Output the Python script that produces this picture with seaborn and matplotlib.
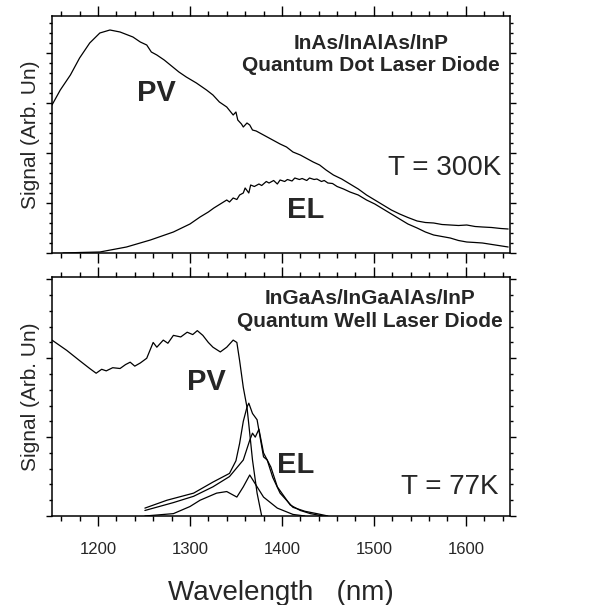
import numpy as np
import pandas as pd
import matplotlib
matplotlib.use("Agg")
import matplotlib.pyplot as plt
from matplotlib.ticker import MultipleLocator, NullFormatter
import seaborn as sns

# ---------------- data ----------------
# Top panel: InAs/InAlAs/InP quantum dot laser diode, T = 300K
qd_pv_wl = [1150, 1159, 1170, 1180, 1191, 1202, 1213, 1224, 1238, 1246, 1253, 1258, 1264,
            1272, 1280, 1288, 1296, 1307, 1318, 1325, 1332, 1340, 1347, 1350, 1352, 1356,
            1358, 1362, 1365, 1368, 1372, 1378, 1384, 1390, 1398, 1405, 1412, 1420, 1426,
            1434, 1441, 1448, 1456, 1465, 1474, 1483, 1492, 1501, 1510, 1519, 1528, 1537,
            1547, 1556, 1565, 1574, 1583, 1592, 1601, 1610, 1618, 1628, 1638, 1646]
qd_pv_sig = [2.96, 3.26, 3.56, 3.90, 4.20, 4.40, 4.46, 4.42, 4.32, 4.22, 4.16, 4.02, 3.96,
             3.86, 3.74, 3.62, 3.52, 3.40, 3.26, 3.16, 3.02, 2.92, 2.76, 2.82, 2.66, 2.58,
             2.52, 2.60, 2.56, 2.46, 2.44, 2.38, 2.32, 2.26, 2.18, 2.12, 2.02, 1.96, 1.90,
             1.82, 1.76, 1.66, 1.56, 1.48, 1.38, 1.28, 1.16, 1.06, 0.96, 0.86, 0.78, 0.71,
             0.64, 0.61, 0.60, 0.57, 0.56, 0.55, 0.56, 0.53, 0.52, 0.51, 0.49, 0.48]
qd_el_wl = [1162, 1180, 1202, 1231, 1257, 1282, 1300, 1311, 1320, 1326, 1333, 1340, 1343,
            1347, 1351, 1354, 1358, 1360, 1364, 1366, 1370, 1375, 1378, 1383, 1386, 1391,
            1395, 1398, 1403, 1406, 1411, 1414, 1419, 1422, 1427, 1430, 1435, 1438, 1443,
            1446, 1450, 1455, 1460, 1467, 1474, 1483, 1492, 1501, 1510, 1519, 1528, 1537,
            1547, 1556, 1565, 1574, 1583, 1592, 1601, 1610, 1618, 1632, 1646]
qd_el_sig = [0.00, 0.01, 0.02, 0.12, 0.26, 0.42, 0.58, 0.72, 0.82, 0.90, 0.98, 1.06, 1.02,
             1.10, 1.07, 1.16, 1.20, 1.30, 1.20, 1.36, 1.33, 1.38, 1.35, 1.43, 1.40, 1.45,
             1.38, 1.46, 1.43, 1.47, 1.44, 1.50, 1.47, 1.49, 1.45, 1.50, 1.47, 1.48, 1.43,
             1.45, 1.40, 1.39, 1.33, 1.28, 1.22, 1.16, 1.06, 0.98, 0.88, 0.78, 0.68, 0.58,
             0.50, 0.42, 0.36, 0.33, 0.30, 0.25, 0.22, 0.21, 0.20, 0.16, 0.12]

# Bottom panel: InGaAs/InGaAlAs/InP quantum well laser diode, T = 77K
qw_pv_wl = [1150, 1166, 1180, 1191, 1198, 1204, 1209, 1216, 1224, 1230, 1235, 1240,
            1246, 1253, 1260, 1264, 1271, 1276, 1282, 1290, 1297, 1303, 1308, 1314,
            1320, 1325, 1333, 1340, 1347, 1351, 1354, 1358, 1362, 1365, 1368, 1373, 1378]
qw_pv_sig = [2.23, 2.10, 1.97, 1.87, 1.81, 1.86, 1.84, 1.88, 1.87, 1.92, 1.95, 1.90,
             1.94, 2.00, 2.20, 2.14, 2.23, 2.19, 2.29, 2.27, 2.33, 2.30, 2.35, 2.29,
             2.20, 2.14, 2.08, 2.14, 2.23, 2.20, 1.97, 1.63, 1.38, 1.05, 0.71, 0.29, 0.00]
qw_el1_wl = [1251, 1275, 1304, 1325, 1343, 1350, 1354, 1358, 1362, 1364, 1368, 1373,
             1377, 1380, 1384, 1390, 1398, 1412, 1425, 1438, 1450]
qw_el1_sig = [0.10, 0.20, 0.29, 0.43, 0.54, 0.70, 0.92, 1.20, 1.38, 1.43, 1.30, 1.22,
              0.95, 0.75, 0.71, 0.49, 0.29, 0.11, 0.06, 0.03, 0.00]
qw_el2_wl = [1251, 1282, 1304, 1325, 1343, 1358, 1365, 1368, 1371, 1375, 1380, 1388,
             1395, 1409, 1420, 1431, 1445]
qw_el2_sig = [0.07, 0.17, 0.25, 0.37, 0.50, 0.71, 0.96, 1.05, 1.00, 1.10, 0.80, 0.62,
              0.37, 0.14, 0.07, 0.03, 0.00]
qw_el3_wl = [1251, 1282, 1300, 1311, 1329, 1340, 1351, 1358, 1365, 1373, 1380, 1395,
             1412, 1425]
qw_el3_sig = [0.00, 0.03, 0.12, 0.20, 0.29, 0.31, 0.24, 0.37, 0.52, 0.37, 0.24, 0.10,
              0.02, 0.00]

x_major = [1200, 1300, 1400, 1500, 1600]
x_labels = ["1200", "1300", "1400", "1500", "1600"]

# ---------------- style ----------------
sns.set_style("ticks")
plt.rcParams['font.family'] = ['Liberation Sans', 'DejaVu Sans']
plt.rcParams['axes.linewidth'] = 1.1

fig = plt.figure(figsize=(6.04, 6.05), dpi=100)
W, H = 604.0, 605.0
ax1 = fig.add_axes([52 / W, (H - 253) / H, 458 / W, 237 / H])
ax2 = fig.add_axes([52 / W, (H - 516) / H, 458 / W, 239 / H])

lw = 0.9
for wl, sig in [(qd_pv_wl, qd_pv_sig), (qd_el_wl, qd_el_sig)]:
    sns.lineplot(x=wl, y=sig, ax=ax1, color="black", linewidth=lw, sort=False,
                 estimator=None)
for wl, sig in [(qw_pv_wl, qw_pv_sig), (qw_el1_wl, qw_el1_sig),
                (qw_el2_wl, qw_el2_sig), (qw_el3_wl, qw_el3_sig)]:
    sns.lineplot(x=wl, y=sig, ax=ax2, color="black", linewidth=lw, sort=False,
                 estimator=None)

ax1.set_ylim(0, 4.74)
ax2.set_ylim(0, 3.03)
for ax in (ax1, ax2):
    ax.set_xlim(1150, 1648)
    ax.xaxis.set_major_locator(MultipleLocator(100))
    ax.xaxis.set_minor_locator(MultipleLocator(20))
    ax.yaxis.set_major_locator(MultipleLocator(1))
    ax.yaxis.set_minor_locator(MultipleLocator(0.2))
    ax.tick_params(which="both", direction="out", top=True, right=True,
                   bottom=True, left=True, width=1.0, color="black")
    ax.tick_params(axis="x", which="major", length=7)
    ax.tick_params(axis="x", which="minor", length=3.5)
    ax.tick_params(axis="y", which="major", length=4)
    ax.tick_params(axis="y", which="minor", length=2.2)
    ax.yaxis.set_major_formatter(NullFormatter())
    ax.set_ylabel("Signal (Arb. Un)", fontsize=15, labelpad=1)
    for s in ax.spines.values():
        s.set_visible(True)
        s.set_color("black")

ax1.xaxis.set_major_formatter(NullFormatter())
ax1.set_xlabel("")
ax2.set_xticks(x_major)
ax2.set_xticklabels(x_labels, fontsize=12)
ax2.tick_params(axis="x", which="major", pad=12)
ax2.set_xlabel("Wavelength   (nm)", fontsize=20, labelpad=16)

# annotations
ax1.text(0.697, 0.886, "InAs/InAlAs/InP", transform=ax1.transAxes, ha="center",
         va="center", fontsize=15, fontweight="bold")
ax1.text(0.697, 0.793, "Quantum Dot Laser Diode", transform=ax1.transAxes, ha="center",
         va="center", fontsize=15, fontweight="bold")
ax1.text(1264, 3.2, "PV", ha="center", va="center", fontsize=21, fontweight="bold")
ax1.text(1426, 0.86, "EL", ha="center", va="center", fontsize=21, fontweight="bold")
ax1.text(0.98, 0.36, "T = 300K", transform=ax1.transAxes, ha="right", va="center",
         fontsize=20)

ax2.text(0.694, 0.912, "InGaAs/InGaAlAs/InP", transform=ax2.transAxes, ha="center",
         va="center", fontsize=15, fontweight="bold")
ax2.text(0.694, 0.812, "Quantum Well Laser Diode", transform=ax2.transAxes, ha="center",
         va="center", fontsize=15, fontweight="bold")
ax2.text(1318, 1.7, "PV", ha="center", va="center", fontsize=21, fontweight="bold")
ax2.text(1415, 0.65, "EL", ha="center", va="center", fontsize=21, fontweight="bold")
ax2.text(0.975, 0.12, "T = 77K", transform=ax2.transAxes, ha="right", va="center",
         fontsize=20)

fig.savefig("out.png", dpi=100)
